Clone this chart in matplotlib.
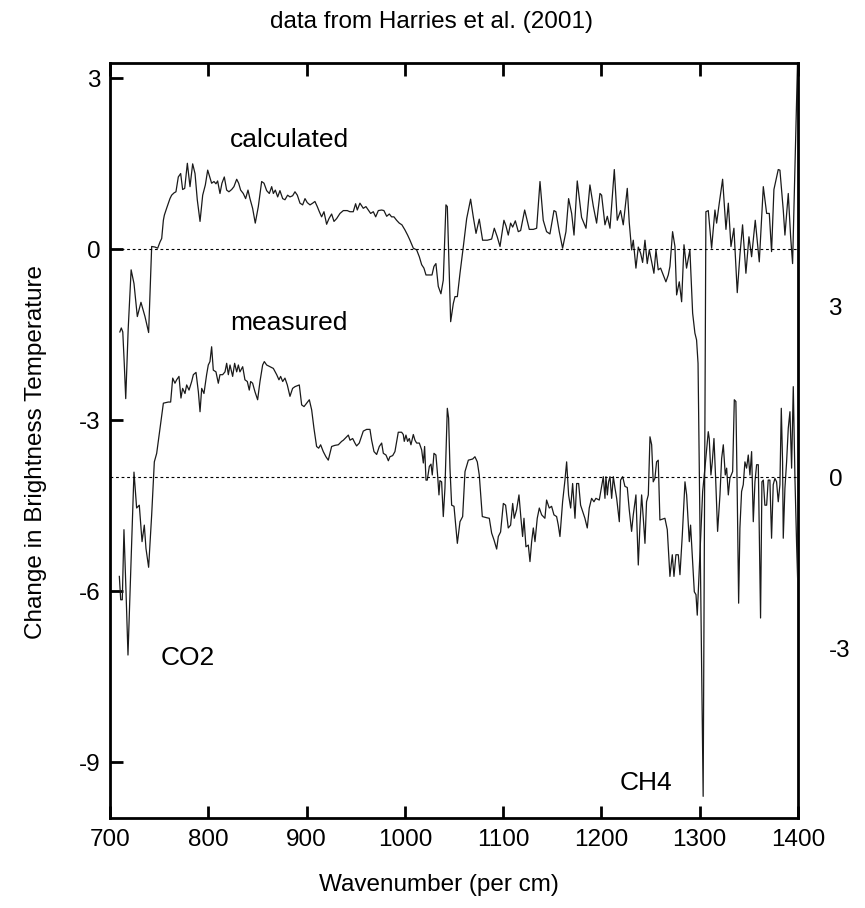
import matplotlib
matplotlib.use("Agg")
import matplotlib.pyplot as plt
import numpy as np

plt.rcParams['font.family'] = ['Liberation Sans', 'DejaVu Sans']
plt.rcParams['axes.unicode_minus'] = False

# calculated difference spectrum (left axis)
calc_wn = [710.0, 711.5, 713.0, 714.5, 716.0, 718.5, 721.5, 724.4, 727.8, 731.5,
           735.6, 739.3, 742.4, 745.8, 748.5, 750.9, 752.6, 754.3, 755.3, 757.6,
           761.0, 762.7, 765.1, 767.1, 769.5, 771.9, 773.9, 776.0, 778.7, 781.4,
           784.1, 786.5, 788.8, 791.6, 794.3, 797.0, 799.4, 801.7, 803.4, 805.8,
           807.8, 809.5, 811.9, 813.9, 816.3, 818.7, 821.0, 823.8, 826.1, 828.9,
           830.9, 832.9, 835.6, 838.0, 840.4, 842.4, 845.1, 847.8, 850.9, 854.3,
           856.7, 859.4, 862.1, 864.5, 866.2, 868.2, 870.6, 872.9, 875.7, 878.0,
           880.7, 883.1, 885.8, 888.2, 890.6, 893.3, 896.0, 898.4, 900.7, 903.5,
           906.2, 908.5, 910.9, 913.0, 915.3, 917.7, 920.4, 922.8, 925.5, 927.9,
           930.6, 934.0, 937.4, 941.4, 944.1, 947.5, 949.9, 951.6, 954.3, 957.7,
           960.4, 962.8, 965.2, 967.9, 970.3, 973.0, 976.4, 978.7, 981.5, 984.2,
           986.5, 988.9, 991.6, 994.3, 997.0, 1000.1, 1002.8, 1005.2, 1008.6, 1012.0,
           1014.7, 1017.1, 1019.4, 1021.5, 1024.9, 1027.6, 1029.6, 1031.6, 1034.0, 1036.7,
           1039.1, 1041.8, 1043.2, 1044.2, 1045.2, 1046.6, 1049.3, 1051.0, 1053.4, 1056.1,
           1059.5, 1062.9, 1066.9, 1069.6, 1072.4, 1075.7, 1079.1, 1083.9, 1088.3, 1091.0,
           1094.0, 1096.8, 1100.8, 1102.9, 1105.2, 1107.6, 1109.7, 1112.4, 1115.4, 1117.8,
           1121.9, 1126.6, 1130.7, 1134.1, 1137.5, 1140.8, 1144.2, 1147.6, 1151.7, 1153.7,
           1157.1, 1160.5, 1163.9, 1166.6, 1169.7, 1172.1, 1175.4, 1179.8, 1184.3, 1188.3,
           1191.7, 1195.1, 1198.5, 1200.2, 1203.6, 1206.0, 1208.7, 1213.1, 1216.1, 1219.5,
           1222.2, 1226.3, 1228.3, 1230.7, 1232.4, 1235.1, 1237.5, 1239.9, 1241.9, 1244.3,
           1246.6, 1248.7, 1251.1, 1253.4, 1255.5, 1257.8, 1260.2, 1262.9, 1265.6, 1268.0,
           1269.7, 1272.4, 1274.8, 1276.5, 1279.2, 1281.6, 1284.0, 1286.6, 1290.0, 1292.8,
           1295.1, 1296.8, 1298.3, 1303.5, 1306.3, 1308.7, 1312.1, 1315.5, 1317.2, 1319.9,
           1323.3, 1326.7, 1329.1, 1331.8, 1334.8, 1338.2, 1340.9, 1343.6, 1347.0, 1350.1,
           1352.8, 1356.5, 1360.6, 1364.7, 1368.1, 1370.8, 1373.1, 1375.5, 1379.9, 1381.6,
           1385.0, 1386.7, 1390.1, 1392.5, 1394.5, 1399.5]
calc_val = [-1.45, -1.38, -1.45, -2.00, -2.62, -1.40, -0.36, -0.60, -1.18, -0.93,
            -1.18, -1.46, 0.05, 0.04, 0.02, 0.13, 0.19, 0.51, 0.60, 0.72,
            0.89, 0.95, 0.99, 1.01, 1.27, 1.33, 1.05, 1.07, 1.51, 1.10,
            1.50, 1.33, 0.87, 0.49, 0.95, 1.13, 1.39, 1.26, 1.16, 1.19,
            1.15, 1.20, 0.98, 1.16, 1.27, 1.04, 1.01, 1.05, 1.10, 1.23,
            1.16, 1.04, 0.98, 0.89, 1.04, 0.89, 0.72, 0.46, 0.75, 1.19,
            1.16, 1.03, 0.98, 1.10, 0.98, 1.04, 0.92, 1.03, 0.89, 0.87,
            0.95, 0.92, 0.94, 1.01, 0.95, 0.81, 0.78, 0.89, 0.82, 0.78,
            0.81, 0.84, 0.75, 0.66, 0.57, 0.66, 0.44, 0.54, 0.62, 0.49,
            0.54, 0.63, 0.68, 0.68, 0.66, 0.66, 0.80, 0.69, 0.81, 0.72,
            0.75, 0.69, 0.63, 0.66, 0.57, 0.68, 0.69, 0.68, 0.58, 0.62,
            0.57, 0.57, 0.51, 0.46, 0.43, 0.34, 0.25, 0.16, 0.02, -0.01,
            -0.13, -0.27, -0.33, -0.45, -0.45, -0.45, -0.30, -0.25, -0.65, -0.78,
            -0.54, 0.78, 0.75, 0.16, -0.42, -1.27, -0.95, -0.83, -0.83, -0.42,
            0.05, 0.54, 0.88, 0.57, 0.28, 0.53, 0.16, 0.16, 0.18, 0.37,
            0.22, 0.05, 0.51, 0.41, 0.25, 0.46, 0.39, 0.50, 0.31, 0.33,
            0.69, 0.35, 0.35, 0.37, 1.19, 0.51, 0.31, 0.27, 0.68, 0.66,
            0.31, 0.02, 0.31, 0.89, 0.63, 0.25, 1.20, 0.56, 0.37, 1.13,
            0.76, 0.46, 0.98, 0.95, 0.43, 0.58, 0.37, 1.40, 0.51, 0.68,
            0.43, 1.07, 0.47, -0.01, 0.16, -0.33, 0.04, -0.07, -0.23, 0.16,
            -0.25, -0.01, -0.22, -0.42, -0.01, -0.36, -0.33, -0.45, -0.57, -0.45,
            -0.30, 0.31, 0.05, -0.80, -0.57, -0.92, 0.08, -0.33, -0.01, -1.12,
            -1.47, -1.59, -2.00, -9.60, 0.66, 0.68, 0.02, 0.69, 0.46, 0.81,
            1.23, 0.35, 0.81, 0.05, 0.37, -0.76, -0.10, 0.43, -0.42, 0.22,
            -0.13, 0.51, -0.22, 1.10, 0.63, 0.63, -0.04, 1.05, 1.40, 1.39,
            0.69, 0.25, 0.98, 0.22, -0.25, 3.27]

# measured difference spectrum (right axis, offset scale)
meas_wn = [709.5, 710.9, 712.5, 714.2, 716.3, 718.3, 724.4, 727.1, 729.8, 732.6,
           734.9, 736.6, 739.3, 742.4, 745.1, 747.5, 750.9, 754.3, 759.3, 761.7,
           763.8, 766.1, 767.8, 770.2, 772.2, 773.9, 776.3, 778.0, 780.4, 783.1,
           784.8, 787.5, 789.9, 791.6, 793.3, 795.6, 798.3, 800.0, 801.7, 803.4,
           805.1, 807.8, 810.2, 811.9, 814.6, 817.0, 818.7, 820.4, 822.1, 824.8,
           826.8, 828.9, 830.6, 832.2, 835.0, 837.3, 839.7, 841.7, 843.1, 845.1,
           847.5, 850.2, 852.6, 855.3, 857.0, 859.4, 862.8, 866.2, 869.6, 871.9,
           873.6, 875.7, 878.0, 880.4, 883.1, 885.8, 888.2, 892.6, 895.0, 897.4,
           900.1, 902.8, 905.2, 907.5, 910.2, 912.3, 914.3, 917.0, 919.7, 922.1,
           925.5, 928.9, 932.3, 935.7, 937.4, 940.8, 942.5, 944.2, 946.9, 949.2,
           950.9, 953.6, 957.7, 961.1, 964.5, 966.2, 968.6, 971.3, 974.0, 976.4,
           978.1, 980.8, 983.2, 984.8, 987.6, 989.9, 993.3, 996.7, 998.4, 999.4,
           1001.1, 1002.8, 1004.5, 1006.2, 1008.6, 1010.3, 1012.0, 1014.7, 1017.1, 1018.8,
           1020.1, 1021.5, 1022.8, 1024.9, 1026.6, 1027.9, 1029.6, 1031.6, 1033.3, 1034.7,
           1035.7, 1037.4, 1039.1, 1040.8, 1043.2, 1044.5, 1045.9, 1047.6, 1050.0, 1053.4,
           1056.1, 1058.8, 1061.2, 1064.6, 1069.0, 1071.3, 1073.7, 1075.7, 1078.8, 1083.2,
           1085.9, 1088.3, 1090.7, 1093.4, 1095.1, 1097.4, 1100.2, 1102.5, 1105.2, 1107.6,
           1109.7, 1111.3, 1113.7, 1116.1, 1118.1, 1119.8, 1121.2, 1123.2, 1125.6, 1127.3,
           1129.0, 1130.7, 1132.4, 1134.7, 1136.8, 1139.2, 1142.5, 1144.2, 1146.9, 1149.3,
           1151.7, 1154.4, 1156.1, 1157.8, 1160.5, 1162.9, 1164.6, 1166.6, 1168.7, 1170.7,
           1173.1, 1174.8, 1176.8, 1178.8, 1180.9, 1183.2, 1185.6, 1187.6, 1190.0, 1192.4,
           1194.4, 1197.8, 1200.2, 1201.9, 1203.6, 1204.6, 1206.0, 1207.3, 1208.7, 1210.4,
           1212.1, 1213.8, 1215.5, 1218.2, 1219.5, 1221.6, 1223.9, 1226.3, 1228.3, 1230.7,
           1232.4, 1235.1, 1237.5, 1239.2, 1240.9, 1242.6, 1244.3, 1245.9, 1247.7, 1249.4,
           1251.1, 1252.7, 1254.4, 1256.1, 1257.8, 1259.5, 1264.6, 1267.0, 1269.7, 1272.1,
           1273.8, 1275.8, 1278.2, 1279.9, 1282.3, 1285.0, 1286.7, 1289.4, 1290.7, 1292.8,
           1294.5, 1296.2, 1297.5, 1303.0, 1305.3, 1308.7, 1309.7, 1311.4, 1312.8, 1314.5,
           1316.2, 1318.2, 1320.6, 1322.3, 1324.0, 1326.0, 1327.4, 1329.1, 1330.7, 1333.5,
           1335.2, 1336.8, 1338.2, 1339.6, 1340.9, 1342.6, 1344.3, 1346.0, 1347.7, 1349.4,
           1351.1, 1352.8, 1354.5, 1356.2, 1357.9, 1359.6, 1361.9, 1363.3, 1364.7, 1366.3,
           1368.1, 1369.7, 1371.4, 1373.1, 1374.8, 1376.5, 1378.2, 1379.9, 1381.6, 1383.0,
           1384.3, 1385.0, 1386.7, 1388.4, 1390.1, 1391.8, 1393.5, 1395.2, 1396.9, 1398.6,
           1400.0]
meas_val = [-1.74, -2.15, -2.15, -0.92, -2.01, -3.12, 0.09, -0.54, -0.49, -1.13,
            -0.84, -1.25, -1.58, -0.66, 0.27, 0.42, 0.86, 1.30, 1.32, 1.32,
            1.74, 1.65, 1.71, 1.77, 1.39, 1.56, 1.47, 1.62, 1.53, 1.68,
            1.80, 1.84, 1.50, 1.15, 1.56, 1.47, 1.80, 1.97, 2.03, 2.29,
            1.88, 1.85, 1.65, 1.80, 1.80, 1.85, 2.00, 1.80, 1.97, 1.77,
            2.00, 1.85, 1.97, 1.85, 1.94, 1.71, 1.68, 1.53, 1.68, 1.65,
            1.50, 1.36, 1.68, 1.97, 2.03, 1.97, 1.94, 1.91, 1.80, 1.71,
            1.77, 1.68, 1.74, 1.62, 1.42, 1.56, 1.59, 1.62, 1.27, 1.24,
            1.30, 1.36, 1.18, 0.86, 0.54, 0.51, 0.57, 0.45, 0.36, 0.30,
            0.54, 0.56, 0.57, 0.63, 0.65, 0.71, 0.74, 0.65, 0.68, 0.60,
            0.55, 0.60, 0.81, 0.84, 0.84, 0.65, 0.45, 0.40, 0.54, 0.60,
            0.42, 0.39, 0.29, 0.36, 0.38, 0.45, 0.79, 0.79, 0.75, 0.63,
            0.74, 0.63, 0.68, 0.57, 0.75, 0.65, 0.60, 0.60, 0.48, 0.25,
            0.54, -0.05, -0.05, 0.19, 0.23, 0.04, 0.42, 0.39, 0.04, -0.31,
            -0.06, -0.08, -0.69, -0.19, 1.21, 1.04, 0.16, -0.49, -0.51, -1.16,
            -0.78, -0.69, 0.10, 0.30, 0.32, 0.36, 0.27, 0.04, -0.69, -0.71,
            -0.72, -0.98, -1.10, -1.26, -1.04, -0.96, -0.46, -0.49, -0.89, -0.84,
            -0.46, -0.72, -0.57, -0.31, -0.72, -1.04, -0.72, -1.22, -1.19, -1.48,
            -1.13, -0.89, -1.13, -0.72, -0.54, -0.66, -0.72, -0.40, -0.54, -0.51,
            -0.66, -0.69, -0.84, -1.04, -0.43, -0.05, 0.27, -0.31, -0.54, -0.11,
            -0.72, -0.11, -0.11, -0.49, -0.60, -0.72, -0.89, -0.54, -0.37, -0.43,
            -0.37, -0.40, -0.16, 0.01, -0.37, 0.01, -0.31, -0.08, 0.01, -0.37,
            0.01, -0.19, -0.37, -0.78, -0.05, 0.01, -0.16, -0.18, -0.57, -0.95,
            -0.66, -0.31, -1.54, -0.84, -0.31, -0.72, -1.16, -0.43, -0.31, 0.71,
            0.57, -0.08, -0.02, 0.27, 0.30, -0.75, -0.72, -0.92, -1.74, -1.36,
            -1.74, -1.36, -1.36, -1.71, -1.01, -0.08, -0.31, -1.13, -0.84, -1.48,
            -2.01, -2.06, -2.42, -0.25, 0.16, 0.80, 0.68, 0.04, 0.27, 0.68,
            -0.02, -0.95, -0.31, 0.33, 0.57, 0.04, 0.16, -0.31, -0.02, 0.10,
            1.36, 1.33, -0.31, -2.21, -0.89, -0.25, -0.13, 0.27, 0.16, 0.39,
            0.04, 0.45, -0.78, -0.08, 0.22, 0.22, -2.47, -0.08, -0.05, -0.49,
            -0.49, -0.05, -0.05, -1.07, -0.13, -0.02, -0.08, -0.43, -0.13, 1.21,
            0.27, -1.07, -0.19, 0.27, 0.86, 1.15, 0.16, 1.59, -0.02, -1.19,
            -2.00]

left_ticks = [3, 0, -3, -6, -9]
right_ticks = [3, 0, -3]
x_ticks = [700, 800, 900, 1000, 1100, 1200, 1300, 1400]
offset = 4  # measured curve is shifted down by 4 on the left scale

W, H = 865, 908
fig = plt.figure(figsize=(W / 100, H / 100), dpi=100)
ax = fig.add_axes([110 / W, 1 - 818 / H, 688 / W, 755 / H])

ymin, ymax = -9.98, 3.27
ax.plot(calc_wn, calc_val, color='#1a1a1a', lw=0.9)
ax.axhline(0, color='black', lw=0.8, ls=(0, (2.5, 2.5)))
ax.set_xlim(700, 1400)
ax.set_ylim(ymin, ymax)
ax.set_xticks(x_ticks)
ax.set_yticks(left_ticks)
ax.tick_params(direction='in', length=9, width=2, top=True, right=True,
               labelsize=17.5, pad=8)
ax.tick_params(axis='y', pad=7)
for s in ax.spines.values():
    s.set_linewidth(2)

ax2 = ax.twinx()
ax2.set_ylim(ymin + offset, ymax + offset)
ax2.plot(meas_wn, meas_val, color='#1a1a1a', lw=0.9)
ax2.axhline(0, color='black', lw=0.8, ls=(0, (2.5, 2.5)))
ax2.set_yticks(right_ticks)
ax2.tick_params(length=0, labelsize=17.5, pad=22)
for s in ax2.spines.values():
    s.set_visible(False)

ax.text(822, 1.92, 'calculated', fontsize=19, va='center')
ax.text(822, -1.29, 'measured', fontsize=19, va='center')
ax.text(751, -7.17, 'CO2', fontsize=19, va='center')
ax.text(1219, -9.36, 'CH4', fontsize=19, va='center')

fig.text(432 / W, 1 - 22 / H, 'data from Harries et al. (2001)', fontsize=17.5,
         ha='center', va='center')
fig.text(439 / W, 1 - 885 / H, 'Wavenumber (per cm)', fontsize=17.5,
         ha='center', va='center')
fig.text(36 / W, 1 - 452 / H, 'Change in Brightness Temperature', fontsize=17.5,
         ha='center', va='center', rotation=90)

fig.savefig('out.png', dpi=100)
